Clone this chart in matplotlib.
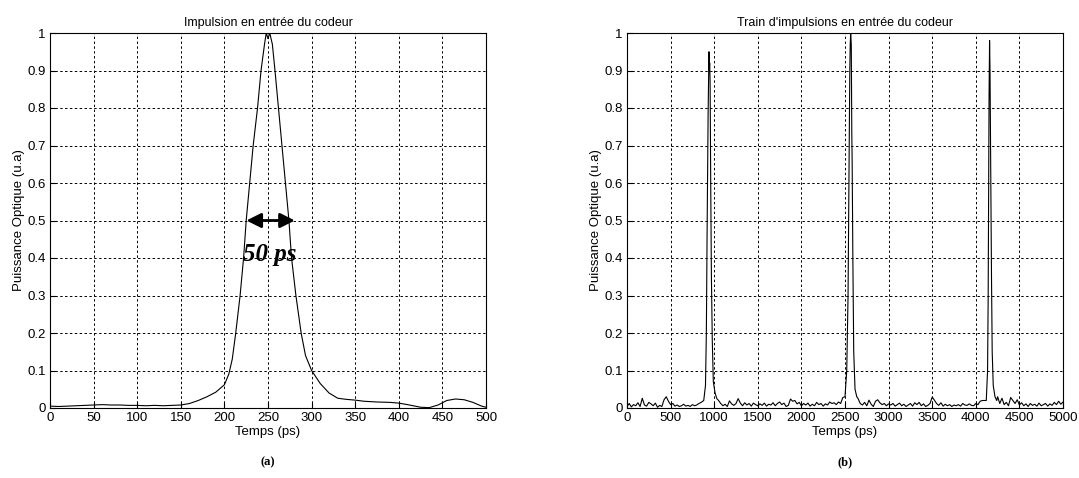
import matplotlib.pyplot as plt
from matplotlib.patches import FancyArrowPatch

# (a) single pulse
t_pulse = [0, 10, 20, 30, 40, 50, 60, 70, 80, 90, 100, 110, 120, 130, 140, 150,
           160, 170, 180, 190, 200, 205, 209, 213, 218, 222, 225, 229, 233, 238,
           242, 246, 248, 250, 252, 255, 258, 262, 266, 270, 274, 277, 282, 288,
           293, 300, 310, 320, 330, 340, 350, 360, 375, 390, 400, 410, 425, 435,
           445, 455, 465, 475, 485, 495, 500]
p_pulse = [0.005, 0.004, 0.005, 0.006, 0.007, 0.008, 0.009, 0.008, 0.008, 0.007,
           0.007, 0.006, 0.007, 0.006, 0.007, 0.008, 0.012, 0.02, 0.03, 0.042,
           0.062, 0.09, 0.13, 0.2, 0.3, 0.4, 0.5, 0.6, 0.7, 0.8, 0.9, 0.97, 1.0,
           0.985, 1.0, 0.97, 0.9, 0.8, 0.7, 0.6, 0.5, 0.4, 0.3, 0.2, 0.14, 0.1,
           0.065, 0.04, 0.026, 0.023, 0.021, 0.018, 0.016, 0.015, 0.013, 0.009,
           0.002, 0.001, 0.008, 0.02, 0.024, 0.022, 0.015, 0.005, 0.002]

# (b) pulse train: noisy baseline + three pulses
t_base = list(range(0, 870, 25)) + list(range(1050, 2480, 25)) + \
    list(range(2650, 4100, 25)) + list(range(4250, 5001, 25))
p_base = [
    # 0 - 850
    0.004, 0.012, 0.003, 0.009, 0.006, 0.014, 0.004, 0.026, 0.008, 0.005,
    0.015, 0.011, 0.006, 0.013, 0.002, 0.007, 0.004, 0.022, 0.03, 0.018,
    0.009, 0.012, 0.005, 0.008, 0.004, 0.006, 0.01, 0.005, 0.007, 0.004,
    0.009, 0.006, 0.008, 0.012, 0.015,
    # 1050 - 2475
    0.02, 0.012, 0.006, 0.01, 0.004, 0.019, 0.011, 0.007, 0.012, 0.025,
    0.013, 0.006, 0.014, 0.008, 0.012, 0.005, 0.013, 0.009, 0.006, 0.011,
    0.007, 0.013, 0.005, 0.01, 0.008, 0.014, 0.006, 0.012, 0.016, 0.009,
    0.013, 0.004, 0.007, 0.024, 0.018, 0.02, 0.011, 0.015, 0.006, 0.012,
    0.008, 0.013, 0.005, 0.01, 0.006, 0.015, 0.009, 0.012, 0.005, 0.011,
    0.008, 0.016, 0.012, 0.014, 0.009, 0.016, 0.012, 0.028,
    # 2650 - 4075
    0.025, 0.012, 0.008, 0.015, 0.006, 0.021, 0.01, 0.004, 0.018, 0.022,
    0.014, 0.009, 0.012, 0.006, 0.011, 0.008, 0.012, 0.005, 0.009, 0.013,
    0.006, 0.01, 0.004, 0.008, 0.012, 0.005, 0.014, 0.009, 0.015, 0.006,
    0.011, 0.004, 0.007, 0.012, 0.029, 0.021, 0.012, 0.007, 0.014, 0.005,
    0.01, 0.006, 0.009, 0.004, 0.008, 0.006, 0.009, 0.005, 0.012, 0.008,
    0.007, 0.011, 0.007, 0.006, 0.012, 0.009, 0.018, 0.02,
    # 4250 - 5000
    0.03, 0.012, 0.026, 0.009, 0.015, 0.006, 0.028, 0.02, 0.012, 0.022,
    0.008, 0.014, 0.006, 0.011, 0.004, 0.012, 0.007, 0.01, 0.005, 0.013,
    0.006, 0.009, 0.012, 0.005, 0.011, 0.007, 0.015, 0.009, 0.018, 0.01,
    0.016,
]
t_peaks = [880, 900, 910, 918, 930, 940, 944, 948, 953, 960, 968, 978, 990,
           1010, 1030,
           2500, 2520, 2535, 2545, 2555, 2560, 2565, 2572, 2578, 2582, 2590,
           2600, 2615, 2635,
           4120, 4135, 4142, 4148, 4152, 4158, 4163, 4166, 4172, 4180, 4188,
           4200, 4220, 4240]
p_peaks = [0.02, 0.06, 0.2, 0.45, 0.78, 0.95, 0.9, 0.92, 0.87, 0.6, 0.35, 0.18,
           0.07, 0.04, 0.025,
           0.03, 0.1, 0.3, 0.6, 0.9, 0.97, 1.0, 0.97, 0.73, 0.66, 0.4,
           0.15, 0.05, 0.03,
           0.02, 0.1, 0.3, 0.6, 0.83, 0.98, 0.9, 0.8, 0.6, 0.35, 0.15,
           0.06, 0.03, 0.02]

train = sorted(zip(t_base + t_peaks, p_base + p_peaks))
t_train = [a for a, b in train]
p_train = [b for a, b in train]

plt.rcParams['font.family'] = ['Liberation Sans', 'DejaVu Sans']

fig = plt.figure(figsize=(10.79, 4.78), dpi=100)
W, H = 1079, 478
ax1 = fig.add_axes([50 / W, 70 / H, 436 / W, 375 / H])
ax2 = fig.add_axes([627 / W, 70 / H, 436 / W, 375 / H])


def style(ax, xmax, xstep):
    ax.set_xlim(0, xmax)
    ax.set_ylim(0, 1)
    ax.set_xticks(range(0, xmax + 1, xstep))
    ax.set_yticks([i / 10 for i in range(11)])
    ax.set_yticklabels(['0'] + ['0.%d' % i for i in range(1, 10)] + ['1'])
    ax.tick_params(direction='in', labelsize=9.5, length=4, pad=3)
    ax.grid(True, color='black', linestyle=(0, (2.5, 2.5)), linewidth=0.7)
    ax.set_xlabel('Temps (ps)', fontsize=9.5, labelpad=1)
    ax.set_ylabel('Puissance Optique (u.a)', fontsize=9.5, labelpad=2)
    for s in ax.spines.values():
        s.set_linewidth(0.8)


ax1.plot(t_pulse, p_pulse, color='black', linewidth=0.8)
style(ax1, 500, 50)
ax1.set_title('Impulsion en entrée du codeur', fontsize=9, pad=5)

arrow = FancyArrowPatch((222, 0.5), (284, 0.5), arrowstyle='<|-|>',
                        mutation_scale=22, color='black', linewidth=2)
ax1.add_patch(arrow)
ax1.text(252, 0.41, '50 ps', fontsize=18, fontweight='bold', style='italic',
         family='Liberation Serif', ha='center', va='center')

ax2.plot(t_train, p_train, color='black', linewidth=0.8)
style(ax2, 5000, 500)
ax2.set_title("Train d'impulsions en entrée du codeur", fontsize=9, pad=5)

fig.text(268 / W, 1 - 462 / H, '(a)', fontsize=9, fontweight='bold',
         family='Liberation Serif', ha='center', va='center')
fig.text(845 / W, 1 - 462 / H, '(b)', fontsize=9, fontweight='bold',
         family='Liberation Serif', ha='center', va='center')

fig.savefig('out.png', dpi=100)
